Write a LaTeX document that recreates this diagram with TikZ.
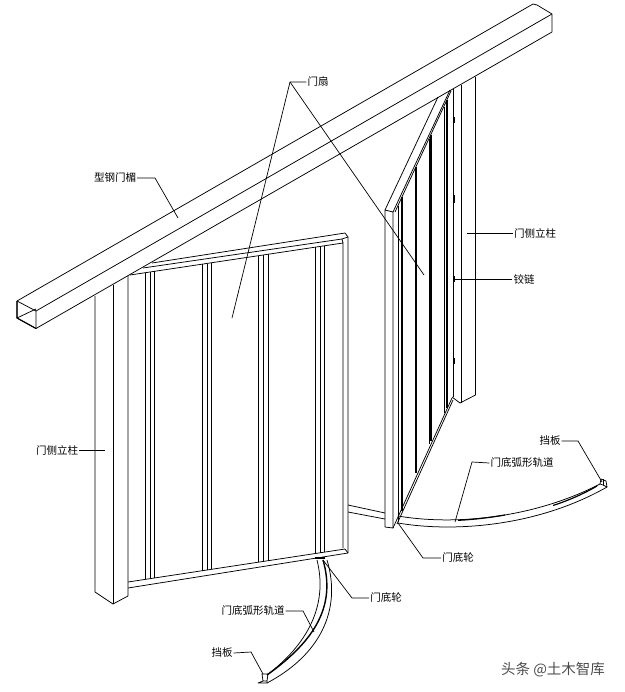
\documentclass[tikz,border=0pt]{standalone}
\usepackage{fontspec}
\newfontfamily\cjk{Noto Sans CJK SC}
\tikzset{
  ln/.style={black,line width=0.75pt,line join=round},
  thk/.style={black,line width=1.5pt},
  lead/.style={black,line width=0.7pt},
  lbl/.style={font=\cjk\fontsize{10.5}{12}\selectfont,inner sep=1pt,text=black}
}
\begin{document}
\begin{tikzpicture}[x=1pt,y=-1pt]
\useasboundingbox (0,0) rectangle (624,692);
% beam
\draw[ln] (17,301)--(533,4)--(537,5)--(552,14)--(552,32)--(36,328.5)--(17,318)--cycle;
\draw[ln] (36,328.5)--(36,311)--(552,14);
\draw[ln] (36,311)--(17,301);
\draw[ln] (17,318)--(36,309);
\draw[line width=1.1pt] (17,301)--(17,318)--(36,328.5);
% left post
\draw[ln] (95,296)--(95,592)--(113,604)--(128,596)--(128,276);
\draw[ln] (113,285)--(113,604);
% left door frame
\draw[ln] (130,275)--(343,243)--(343,548);
\draw[ln] (143,268)--(342,239)--(343,243);
\draw[ln] (152,263)--(345,233)--(348,237)--(348,553)--(128,588);
\draw[ln] (342,239)--(348,237);
\draw[ln] (128,582)--(345,549)--(348,553);
% left door ribs
\foreach \x/\a/\b in {145/272.7/579.4,150/272/578.7,154/271.4/578,
  202/264.2/570.8,207/263.5/570,211/262.9/569.4,
  258/255.8/562.2,263/255/561.5,268/254.3/560.7,
  315/247.3/553.6,320/246.5/552.8,324/245.9/552.2}
  \draw[ln] (\x,\a)--(\x,\b);
% right post
\draw[ln] (475.5,77)--(475.5,395)--(460,403)--(452,397);
\draw[ln] (461,85)--(461,403);
\draw[ln] (453,89)--(453,397);
% hinges
\foreach \a/\b in {117/123,195/203,276/282,358/364}
  \draw[line width=1.3pt] (454.5,\a)--(454.5,\b);
% right door
\draw[ln] (438,97)--(385,210)--(385,527)--(393,528)--(393,212)--(385,210);
\draw[ln] (393,212)--(450,90);
\draw[ln] (395,212)--(451,91);
\draw[ln] (398,206)--(398,522);
\draw[ln] (393,528)--(452,398);
\draw[ln] (397,524)--(453,400);
% right door ribs
\draw[thk] (402,197)--(402,511);
\draw[thk] (416,167)--(416,473);
\draw[ln] (429,139)--(429,444);
\draw[thk] (431,135)--(431,441);
\draw[thk] (447,100)--(447,408);
\draw[ln] (444,107)--(444,413);
% right track
\draw[ln] (348,505)--(385,513);
\draw[ln] (348,512)--(385,519);
\draw[ln] (398,516) .. controls (450,525) and (530,520) .. (600,484);
\draw[ln] (398,523) .. controls (450,532) and (535,528) .. (607,487);
\draw[line width=1.2pt] (458,520.3) .. controls (475,519.5) and (490,517.5) .. (505,515);
\draw[line width=1.2pt] (553,505.5) .. controls (570,500) and (585,493) .. (597,486);
\draw[ln] (600,484)--(601,479)--(606,481)--(607,487)--(603,485)--(600,484);
\draw[ln] (603,479)--(603,485);
% left track
\draw[ln] (317,560) .. controls (327,600) and (313,640) .. (267,675);
\draw[line width=1.4pt] (323,560) .. controls (336,605) and (316,640) .. (267,675);
\draw[ln] (327,560) .. controls (342,610) and (320,655) .. (267,683);
\draw[line width=1.3pt] (315,558)--(325,558);
\draw[ln] (262,674)--(268,674)--(267,681)--(263,681)--cycle;
\draw[ln] (263,681)--(258,683)--(267,683)--(267,681);
% labels
\node[lbl] (beamL) at (115,178) {型钢门楣};
\node[lbl] (leafL) at (318,82) {门扇};
\node[lbl] (postR) at (535,233) {门侧立柱};
\node[lbl] (hingeL) at (524,279) {铰链};
\node[lbl] (postL) at (57,450) {门侧立柱};
\node[lbl] (trackR) at (522,463) {门底弧形轨道};
\node[lbl] (stopR) at (550,441) {挡板};
\node[lbl] (wheelR) at (458,558) {门底轮};
\node[lbl] (wheelL) at (386,598) {门底轮};
\node[lbl] (trackL) at (253,611) {门底弧形轨道};
\node[lbl] (stopL) at (222,653) {挡板};
\node[text=black!70,font=\cjk\fontsize{14.5}{16}\selectfont,inner sep=0pt] (wmk) at (553,670) {头条 @土木智库};
% leader free ends
\coordinate (e1) at (178,218);
\coordinate (e2) at (232,318);
\coordinate (e3) at (424,275);
\coordinate (e4) at (467,233);
\coordinate (e5) at (455,279);
\coordinate (e6) at (105,450);
\coordinate (e7) at (455,522);
\coordinate (e8) at (602,482);
\coordinate (e9) at (398,523);
\coordinate (e10) at (323,560);
\coordinate (e11) at (314,632);
\coordinate (e12) at (263,674);
% leaders
\draw[lead] (beamL.east)--(155,178)--(e1);
\draw[lead] (leafL.west)--(290,82)--(e2);
\draw[lead] (290,82)--(e3);
\draw[lead] (postR.west)--(e4);
\draw[lead] (hingeL.west)--(e5);
\draw[lead] (postL.east)--(e6);
\draw[lead] (trackR.west)--(472,462)--(e7);
\draw[lead] (stopR.east)--(578,441)--(e8);
\draw[lead] (wheelR.west)--(423,558)--(e9);
\draw[lead] (wheelL.west)--(352,598)--(e10);
\draw[lead] (trackL.east)--(303,611)--(e11);
\draw[lead] (stopL.east)--(251,652)--(e12);
\end{tikzpicture}
\end{document}
